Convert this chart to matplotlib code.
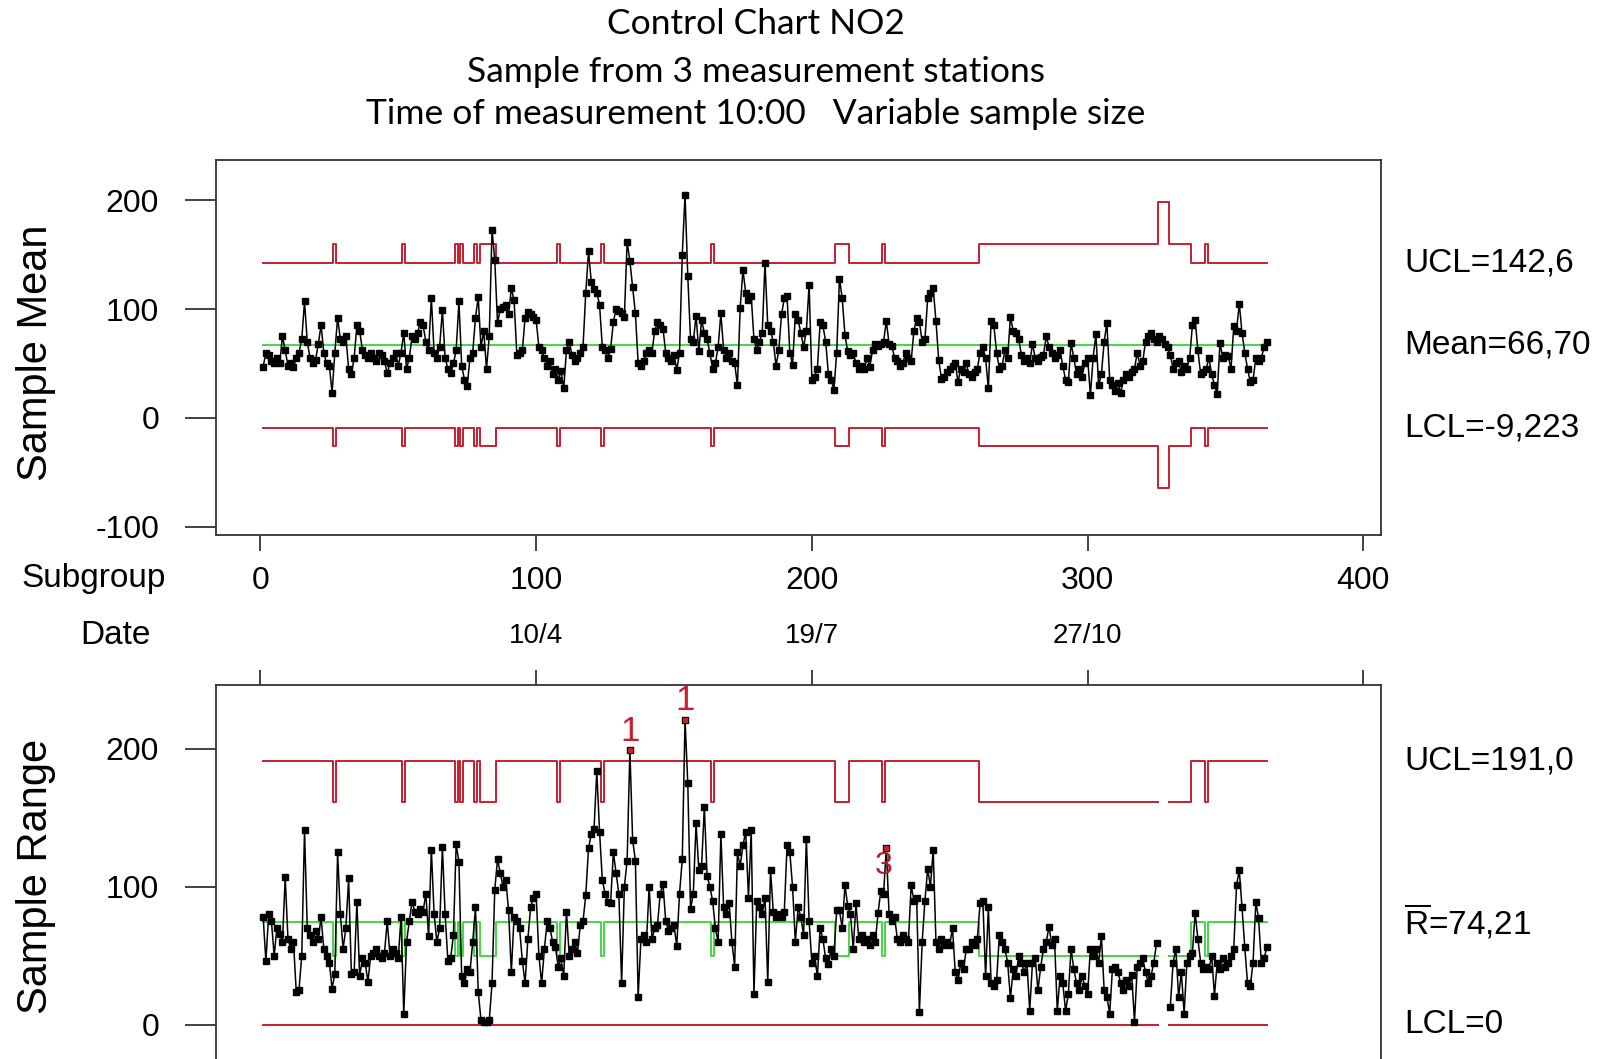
import numpy as np
import matplotlib
matplotlib.use("Agg")
import matplotlib.pyplot as plt
import matplotlib.transforms as mtransforms

plt.rcParams['font.family'] = ['Liberation Sans', 'DejaVu Sans']
plt.rcParams['axes.unicode_minus'] = False
plt.rcParams['mathtext.fontset'] = 'custom'
plt.rcParams['mathtext.rm'] = 'Liberation Sans'

# ---------------- data ----------------
title_lines = ["Control Chart NO2",
               "Sample from 3 measurement stations",
               "Time of measurement 10:00   Variable sample size"]

subgroup = np.arange(1, 366)

sample_means = [
    47, 60, 58, 52, 50, 55, 50, 75, 62, 48,
    50, 47, 55, 60, 72, 107, 70, 55, 50, 53,
    68, 85, 60, 50, 48, 23, 60, 92, 72, 70,
    75, 45, 40, 55, 85, 80, 62, 58, 55, 60,
    55, 52, 60, 58, 52, 41, 50, 55, 60, 48,
    60, 78, 45, 55, 75, 72, 78, 88, 85, 70,
    62, 110, 60, 55, 65, 99, 55, 45, 41, 50,
    62, 107, 48, 35, 29, 55, 60, 92, 111, 65,
    80, 45, 75, 173, 145, 87, 100, 102, 104, 95,
    119, 108, 58, 60, 62, 92, 97, 95, 93, 90,
    65, 62, 55, 48, 52, 40, 45, 35, 43, 27,
    62, 70, 58, 52, 55, 60, 65, 115, 153, 125,
    118, 115, 104, 65, 62, 55, 63, 88, 100, 98,
    96, 93, 162, 144, 120, 96, 50, 48, 52, 60,
    62, 60, 80, 88, 85, 82, 60, 55, 52, 58,
    44, 60, 150, 205, 130, 72, 70, 94, 61, 90,
    78, 72, 60, 45, 50, 65, 96, 62, 55, 60,
    52, 50, 30, 101, 136, 115, 108, 112, 72, 62,
    70, 78, 142, 85, 80, 70, 48, 62, 95, 110,
    112, 60, 49, 95, 90, 78, 65, 80, 122, 35,
    38, 45, 88, 85, 70, 40, 35, 26, 60, 128,
    110, 76, 61, 58, 60, 50, 45, 48, 45, 55,
    47, 62, 68, 66, 68, 70, 89, 68, 66, 55,
    52, 48, 50, 60, 55, 52, 80, 92, 88, 70,
    72, 110, 115, 119, 89, 53, 36, 38, 42, 45,
    48, 50, 33, 45, 42, 50, 40, 38, 42, 45,
    60, 65, 55, 27, 89, 85, 60, 45, 48, 62,
    55, 93, 80, 78, 72, 58, 52, 55, 50, 68,
    55, 52, 56, 58, 75, 65, 60, 55, 58, 62,
    48, 35, 33, 69, 55, 40, 45, 38, 50, 55,
    21, 55, 77, 30, 40, 70, 87, 35, 30, 25,
    32, 23, 35, 40, 38, 42, 45, 60, 48, 52,
    70, 75, 78, 72, 70, 75, 72, 68, 65, 58,
    45, 50, 52, 42, 48, 45, 55, 85, 90, 62,
    40, 42, 45, 55, 40, 30, 22, 69, 55, 58,
    57, 45, 84, 80, 105, 78, 60, 45, 33, 35,
    55, 52, 55, 65, 70,
]

nan = float('nan')
sample_ranges = [
    78, 46, 80, 75, 50, 70, 66, 60, 107, 62,
    55, 60, 24, 25, 50, 141, 70, 65, 60, 68,
    62, 78, 55, 50, 45, 26, 37, 125, 80, 55,
    70, 106, 37, 38, 89, 35, 48, 45, 31, 50,
    52, 55, 50, 48, 52, 75, 50, 55, 52, 48,
    78, 8, 60, 75, 89, 82, 80, 84, 82, 95,
    64, 127, 80, 60, 70, 129, 80, 46, 48, 65,
    131, 118, 35, 30, 40, 38, 60, 85, 24, 3,
    2, 2, 3, 30, 98, 120, 110, 100, 105, 83,
    38, 78, 75, 70, 46, 30, 62, 85, 92, 95,
    50, 30, 55, 75, 70, 60, 56, 42, 48, 35,
    82, 50, 55, 60, 52, 72, 75, 94, 128, 138,
    142, 184, 140, 105, 95, 89, 88, 125, 110, 95,
    30, 100, 119, 199, 134, 119, 20, 62, 65, 60,
    100, 62, 70, 72, 95, 102, 75, 68, 70, 72,
    57, 95, 120, 221, 175, 84, 95, 146, 112, 115,
    158, 108, 100, 90, 70, 60, 138, 85, 80, 88,
    60, 42, 125, 115, 130, 140, 92, 141, 22, 90,
    85, 80, 92, 31, 112, 82, 78, 80, 78, 82,
    130, 125, 100, 60, 85, 78, 65, 135, 75, 45,
    50, 35, 70, 62, 48, 44, 55, 50, 83, 83,
    70, 101, 86, 80, 55, 88, 62, 65, 60, 62,
    58, 65, 60, 81, 97, 95, 128, 80, 75, 78,
    62, 60, 65, 62, 60, 101, 90, 92, 9, 60,
    90, 113, 100, 127, 60, 55, 62, 58, 60, 58,
    70, 38, 32, 45, 40, 55, 55, 60, 58, 62,
    88, 90, 35, 85, 30, 28, 32, 65, 60, 55,
    45, 19, 40, 35, 50, 45, 38, 45, 10, 45,
    48, 25, 42, 55, 60, 71, 58, 62, 10, 35,
    30, 10, 22, 55, 40, 30, 25, 35, 28, 22,
    55, 50, 55, 45, 64, 25, 20, 8, 40, 42,
    38, 30, 25, 32, 28, 36, 2, 42, 45, 48,
    38, 30, 35, 45, 59, nan, nan, nan, nan, 13,
    45, 55, 20, 38, 8, 45, 50, 52, 81, 62,
    45, 40, 42, 40, 50, 21, 45, 40, 48, 42,
    45, 50, 55, 101, 112, 85, 56, 30, 28, 45,
    89, 77, 45, 48, 56,
]

# subgroups whose sample size differs from 3 (first, last)
size2_ranges = [(27, 27), (52, 52), (71, 71), (73, 73), (78, 78), (80, 85),
                (108, 108), (124, 124), (164, 164), (209, 213), (226, 226),
                (261, 325), (330, 337), (343, 343)]
size1_ranges = [(326, 329)]

grand_mean = 66.70
rbar3 = 74.21
d2 = {2: 1.128, 3: 1.693}
D4 = {2: 3.267, 3: 2.574}

test3_points = [227]

xticks = [0, 100, 200, 300, 400]
date_ticks = [100, 200, 300]
date_labels = ["10/4", "19/7", "27/10"]
top_labels = ["UCL=142,6", "Mean=66,70", "LCL=-9,223"]
bot_labels = ["UCL=191,0", r"$\overline{\mathrm{R}}$=74,21", "LCL=0"]

# ---------------- computations ----------------
means = np.array(sample_means, dtype=float)
ranges = np.array(sample_ranges, dtype=float)
n = np.full(subgroup.size, 3)
for a, b in size2_ranges:
    n[(subgroup >= a) & (subgroup <= b)] = 2
for a, b in size1_ranges:
    n[(subgroup >= a) & (subgroup <= b)] = 1

sigma = rbar3 / d2[3]
ucl_x = grand_mean + 3 * sigma / np.sqrt(n)
lcl_x = grand_mean - 3 * sigma / np.sqrt(n)
center_r = np.array([d2[k] * sigma if k > 1 else np.nan for k in n])
ucl_r = np.array([D4[k] * d2[k] * sigma if k > 1 else np.nan for k in n])
lcl_r = np.where(n > 1, 0.0, np.nan)

RED = '#c81e2e'
GREEN = '#45d645'
FS = 23
MS = 4.4
LW = 1.1

fig = plt.figure(figsize=(16.13, 10.59), dpi=100)
W, H = 1613.0, 1059.0
ax1 = fig.add_axes([216 / W, 1 - 535 / H, 1165 / W, 375 / H])
ax2 = fig.add_axes([216 / W, 0.35316 - 0.37271, 1165 / W, 0.37271])

for ax in (ax1, ax2):
    for sp in ax.spines.values():
        sp.set_linewidth(1.3)
        sp.set_color('#333333')
    ax.set_xlim(-16.1, 406.4)
    ax.set_xticks(xticks)
    ax.tick_params(axis='y', length=22, width=1.3, pad=19, labelsize=FS, direction='out', color='#333333')

ax1.set_ylim(-107.6, 236.9)
ax1.set_yticks([-100, 0, 100, 200])
ax1.set_xticklabels([str(t) for t in xticks])
ax1.tick_params(axis='x', length=11.5, width=1.3, pad=11, labelsize=FS, direction='out', color='#333333')

ax2.set_ylim(-40, 246.4)
ax2.set_yticks([0, 100, 200])
ax2.xaxis.tick_top()
ax2.tick_params(axis='x', length=11, width=1.3, labeltop=False, direction='out', color='#333333')

# Xbar chart
ax1.plot(subgroup, ucl_x, drawstyle='steps-mid', color=RED, lw=1.4, zorder=2)
ax1.plot(subgroup, lcl_x, drawstyle='steps-mid', color=RED, lw=1.4, zorder=2)
ax1.plot([subgroup[0], subgroup[-1]], [grand_mean, grand_mean], color=GREEN, lw=1.4, zorder=2)
ax1.plot(subgroup, means, color='black', lw=LW, marker='s', ms=MS, zorder=3)

# R chart
ax2.plot(subgroup, ucl_r, drawstyle='steps-mid', color=RED, lw=1.4, zorder=2)
ax2.plot(subgroup, lcl_r, drawstyle='steps-mid', color=RED, lw=1.4, zorder=2)
ax2.plot(subgroup, center_r, drawstyle='steps-mid', color=GREEN, lw=1.4, zorder=2)
ax2.plot(subgroup, ranges, color='black', lw=LW, marker='s', ms=MS, zorder=3)

flag1 = ranges > ucl_r
ax2.plot(subgroup[flag1], ranges[flag1], 's', color=RED, ms=MS - 1, zorder=4)
for s, r in zip(subgroup[flag1], ranges[flag1]):
    ax2.text(s, r + 2, '1', color=RED, fontsize=25, ha='center', va='bottom', zorder=5)
for s in test3_points:
    r = ranges[s - 1]
    ax2.plot([s], [r], 's', color=RED, ms=MS - 1, zorder=4)
    ax2.text(s - 0.8, r - 13, '3', color='#b02030', fontsize=23, ha='center', va='center', zorder=5)

# right-hand labels
tr1 = mtransforms.blended_transform_factory(fig.transFigure, ax1.transData)
tr2 = mtransforms.blended_transform_factory(fig.transFigure, ax2.transData)
xr = 1404 / W
for lab, v in zip(top_labels, [ucl_x[0], grand_mean, lcl_x[0]]):
    fig.text(xr, v, lab, transform=tr1, fontsize=FS + 1, ha='left', va='center')
for lab, v in zip(bot_labels, [ucl_r[0], center_r[0], 0.0]):
    fig.text(xr, v, lab, transform=tr2, fontsize=FS + 1, ha='left', va='center')

# axis labels
fig.text(36 / W, 1 - 353 / H, 'Sample Mean', rotation=90, fontsize=30, ha='center', va='center')
fig.text(36 / W, 1 - 876 / H, 'Sample Range', rotation=90, fontsize=30, ha='center', va='center')
fig.text(94 / W, 1 - 579 / H, 'Subgroup', fontsize=FS + 1, ha='center', va='center')
fig.text(115 / W, 1 - 636 / H, 'Date', fontsize=FS + 1, ha='center', va='center')
trd = mtransforms.blended_transform_factory(ax1.transData, fig.transFigure)
for t, lab in zip(date_ticks, date_labels):
    fig.text(t, 1 - 636 / H, lab, transform=trd, fontsize=20, ha='center', va='center')

# title
for lab, yb in zip(title_lines, [34, 82, 124.5]):
    fig.text(756 / W, 1 - yb / H, lab, fontsize=25.5, ha='center', va='baseline',
             family=['Lato', 'DejaVu Sans'])

fig.savefig('out.png', dpi=100)
